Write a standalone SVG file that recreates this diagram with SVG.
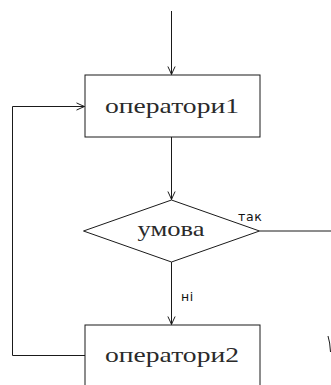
<svg xmlns="http://www.w3.org/2000/svg" width="331" height="385" viewBox="0 0 331 385">
<defs>
<marker id="arr" viewBox="-9 -5 10 10" markerWidth="10" markerHeight="10" refX="0" refY="0" orient="auto" markerUnits="userSpaceOnUse">
<path d="M -8 -3.6 Q -3 -1.2 0 0 Q -3 1.2 -8 3.6" fill="none" stroke="#1a1a1a" stroke-width="1"/>
</marker>
<style>
.ln{fill:none;stroke:#1a1a1a;stroke-width:1}
.box{fill:#fff;stroke:#1a1a1a;stroke-width:1}
.ser{font-family:"Liberation Serif","DejaVu Serif",serif;font-size:22px;fill:#2a2a2a;text-anchor:middle}
.san{font-family:"DejaVu Sans","Liberation Sans",sans-serif;font-size:12.5px;fill:#111;letter-spacing:0.7px}
</style>
</defs>
<rect width="331" height="385" fill="#fff"/>
<g id="connectors">
<path class="ln" d="M171.5 11 V74.5" marker-end="url(#arr)"/>
<path class="ln" d="M171.5 137 V199.5" marker-end="url(#arr)"/>
<path class="ln" d="M171.5 262 V324.5" marker-end="url(#arr)"/>
<path class="ln" d="M85 355.5 H12.5 V106.5 H84.5" marker-end="url(#arr)"/>
<path class="ln" d="M259.5 231 H331"/>
<path class="ln" d="M328 336 Q330 342 330.5 352"/>
<text class="san" x="238" y="221">так</text>
<text class="san" x="181" y="301">ні</text>
</g>
<g id="op1">
<rect class="box" x="85" y="75" width="175" height="62"/>
<text class="ser" x="172" y="113" textLength="134" lengthAdjust="spacingAndGlyphs">оператори1</text>
</g>
<g id="cond">
<polygon class="box" points="171.5,200 259.5,231 171.5,262 83.5,231"/>
<text class="ser" x="171" y="236" textLength="67" lengthAdjust="spacingAndGlyphs">умова</text>
</g>
<g id="op2">
<rect class="box" x="85" y="325" width="175" height="62"/>
<text class="ser" x="172" y="362" textLength="134" lengthAdjust="spacingAndGlyphs">оператори2</text>
</g>
</svg>
